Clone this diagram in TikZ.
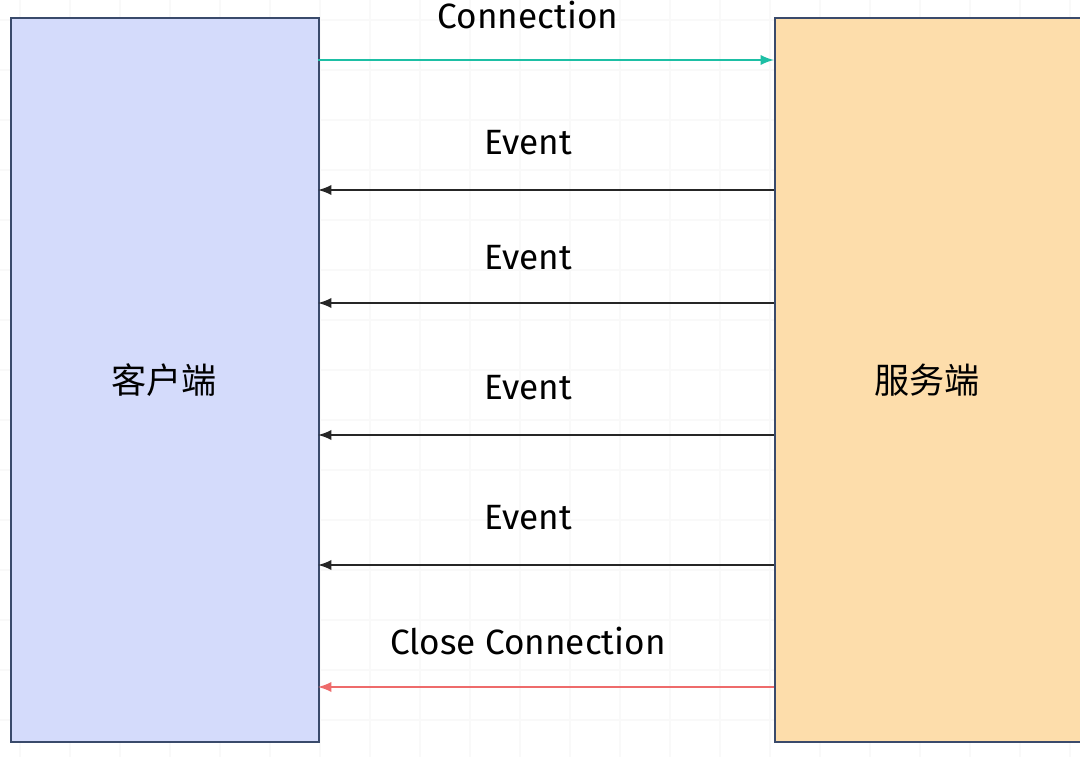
\documentclass[tikz,border=0pt]{standalone}
\usepackage{fontspec}
\setmainfont{Fira Sans}
\newfontfamily\cjk{Noto Sans CJK SC}
\definecolor{cbox}{HTML}{D4DBFB}
\definecolor{sbox}{HTML}{FDDDAB}
\definecolor{edge}{HTML}{3A4A6B}
\definecolor{teal}{HTML}{1DBFA5}
\definecolor{redc}{HTML}{EE6B6B}
\begin{document}
\begin{tikzpicture}[x=0.02cm,y=-0.02cm,
  box/.style={draw=edge,line width=0.9pt},
  lbl/.style={font=\fontsize{20}{23}\selectfont},
  arr/.style={-latex,line width=1.6pt}]
\useasboundingbox (0,0) rectangle (1080,757);
\fill[white] (0,0) rectangle (1080,757);
\draw[black!2.5,line width=1pt] \foreach \x in {20,70,...,1080}{(\x,0)--(\x,757)} \foreach \y in {20,70,...,757}{(0,\y)--(1080,\y)};
\node[box,fill=cbox,minimum width=308*0.02cm,minimum height=724*0.02cm,anchor=north west] (c) at (10,17) {};
\node[box,fill=sbox,minimum width=320*0.02cm,minimum height=724*0.02cm,anchor=north west] (s) at (774,17) {};
\node[lbl] at (164,380) {\cjk 客户端};
\node[lbl] at (927,380) {\cjk 服务端};
\coordinate (l0) at (318,60); \coordinate (r0) at (774,60);
\draw[arr,teal] (l0) -- (r0);
\node[lbl] (t0) at (528,15) {Connection};
\foreach \y/\t in {190/143,303/258,435/388,565/518}{
  \coordinate (r) at (774,\y); \coordinate (l) at (318,\y);
  \draw[arr,black!85] (r) -- (l);
  \node[lbl] at (528,\t) {Event};}
\coordinate (l5) at (318,687); \coordinate (r5) at (774,687);
\draw[arr,redc] (r5) -- (l5);
\node[lbl] (t5) at (528,641) {Close Connection};
\end{tikzpicture}
\end{document}
